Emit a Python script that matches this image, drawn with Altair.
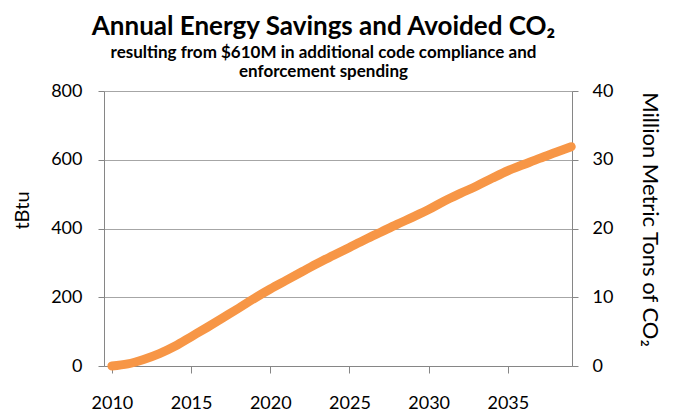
import altair as alt
import pandas as pd

years = list(range(2010, 2040))
tbtu = [0, 6, 19, 36, 58, 85, 112, 140, 168, 197,
        224, 249, 274, 299, 322, 345, 368, 390, 412, 433,
        455, 480, 502, 523, 546, 568, 586, 604, 621, 638]
x_ticks = [2010, 2015, 2020, 2025, 2030, 2035]
left_ticks = [0, 200, 400, 600, 800]
right_ticks = [0, 10, 20, 30, 40]

df = pd.DataFrame({"year": years, "tbtu": tbtu})

FONT = "Lato"
AXIS = "#868686"
GRID = "#A6A6A6"
ORANGE = "#F79646"

x_enc = alt.X(
    "year:Q",
    scale=alt.Scale(domain=[2009.5, 2039.05], nice=False, zero=False),
    axis=alt.Axis(values=x_ticks, format="d", title=None, grid=False,
                  domainColor=AXIS, tickColor=AXIS, tickSize=7,
                  labelPadding=21, labelFontSize=18, labelFont=FONT,
                  labelColor="black"),
)

line = alt.Chart(df).mark_line(
    color=ORANGE, strokeWidth=9, strokeCap="round", strokeJoin="round",
    interpolate="monotone",
).encode(
    x=x_enc,
    y=alt.Y("tbtu:Q", scale=alt.Scale(domain=[0, 800], nice=False),
            axis=alt.Axis(orient="left", values=left_ticks, title="tBtu",
                          grid=True, gridColor=GRID, domainColor=AXIS,
                          tickColor=AXIS, tickSize=6, labelPadding=16,
                          labelFontSize=18, labelFont=FONT, labelColor="black",
                          titleFont=FONT, titleFontSize=20, titleFontWeight="normal",
                          titleColor="black", titleAngle=-90, titleX=-82,
                          titleY=119, titleAlign="center", titleBaseline="middle")),
)

co2 = alt.Chart(df).transform_calculate(
    co2="datum.tbtu / 20"
).mark_line(opacity=0).encode(
    x=x_enc,
    y=alt.Y("co2:Q", scale=alt.Scale(domain=[0, 40], nice=False),
            axis=alt.Axis(orient="right", values=right_ticks,
                          title="Million Metric Tons of CO₂", grid=False,
                          domainColor=AXIS, tickColor=AXIS, tickSize=6,
                          labelPadding=14, labelFontSize=18, labelFont=FONT,
                          labelColor="black", titleFont=FONT, titleFontSize=22,
                          titleFontWeight="normal", titleColor="black",
                          titleAngle=90, titleX=77, titleY=128,
                          titleAlign="center", titleBaseline="middle")),
)

chart = alt.layer(co2, line).resolve_scale(y="independent").properties(
    width=468,
    height=275,
    autosize=alt.AutoSizeParams(type="none"),
    padding={"left": 96, "top": 83, "right": 95, "bottom": 48},
    title=alt.TitleParams(
        text="Annual Energy Savings and Avoided CO₂",
        subtitle=["resulting from $610M in additional code compliance and",
                  "enforcement spending"],
        font=FONT, fontSize=26, fontWeight="bold", color="black",
        subtitleFont=FONT, subtitleFontSize=17, subtitleFontWeight="bold",
        subtitleColor="black", subtitleLineHeight=19, subtitlePadding=5,
        anchor="middle", dx=-14.5, offset=2,
    ),
).configure_view(stroke=None).configure(background="white")

chart.save("out.html", embed_options={"renderer": "svg", "actions": False})
